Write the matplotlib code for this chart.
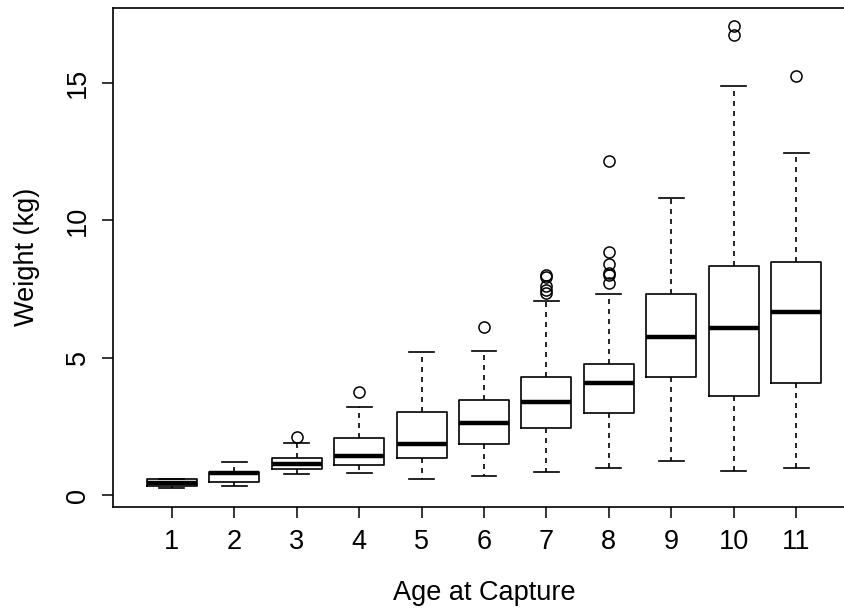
import matplotlib
matplotlib.use("Agg")
import matplotlib.pyplot as plt

plt.rcParams['font.family'] = ['Liberation Sans', 'DejaVu Sans']

# summary stats for each age class (kg)
ages = [1, 2, 3, 4, 5, 6, 7, 8, 9, 10, 11]
q1 = [0.32, 0.48, 0.94, 1.09, 1.35, 1.85, 2.43, 2.98, 4.31, 3.61, 4.09]
med = [0.45, 0.79, 1.12, 1.43, 1.85, 2.63, 3.40, 4.07, 5.76, 6.07, 6.66]
q3 = [0.57, 0.85, 1.36, 2.06, 3.03, 3.46, 4.31, 4.77, 7.32, 8.33, 8.50]
whislo = [0.24, 0.34, 0.76, 0.80, 0.58, 0.70, 0.85, 0.99, 1.25, 0.89, 0.99]
whishi = [0.60, 1.20, 1.90, 3.22, 5.21, 5.26, 7.08, 7.33, 10.83, 14.91, 12.44]
fliers = [
    [],
    [],
    [2.12],
    [3.76],
    [],
    [6.13],
    [8.0, 7.95, 7.6, 7.45, 7.35],
    [12.17, 8.84, 8.40, 8.10, 8.02, 7.71],
    [],
    [17.08, 16.75],
    [15.26],
]
yticks = [0, 5, 10, 15]

stats = []
for i in range(len(ages)):
    stats.append(dict(med=med[i], q1=q1[i], q3=q3[i],
                      whislo=whislo[i], whishi=whishi[i], fliers=fliers[i]))

fig = plt.figure(figsize=(8.45, 6.11), dpi=100)
# right side of the frame runs past the edge of the png
ax = fig.add_axes([0.1341, 0.1705, 0.8774, 0.817])

lw = 1.2
ax.bxp(stats, positions=ages, widths=0.8,
       boxprops=dict(color='black', linewidth=lw),
       medianprops=dict(color='black', linewidth=3.2, solid_capstyle='butt'),
       whiskerprops=dict(color='black', linewidth=lw, linestyle=(0, (3, 3))),
       capprops=dict(color='black', linewidth=lw),
       capwidths=0.4,
       flierprops=dict(marker='o', markerfacecolor='none', markeredgecolor='black',
                       markersize=8, markeredgewidth=1.1))

ax.set_xlim(0.06, 11.94)
ax.set_ylim(-0.43, 17.75)
ax.set_xticks(ages)
ax.set_xticklabels([str(a) for a in ages])
ax.set_yticks(yticks)
ax.set_yticklabels([str(t) for t in yticks], rotation=90, va='center')

for s in ax.spines.values():
    s.set_linewidth(1.2)
ax.tick_params(axis='both', direction='out', length=8, width=1.1,
               labelsize=19.5, pad=8)

ax.set_xlabel('Age at Capture', fontsize=19.5, labelpad=18)
ax.set_ylabel('Weight (kg)', fontsize=19.5, labelpad=18)

fig.savefig('out.png', dpi=100)
